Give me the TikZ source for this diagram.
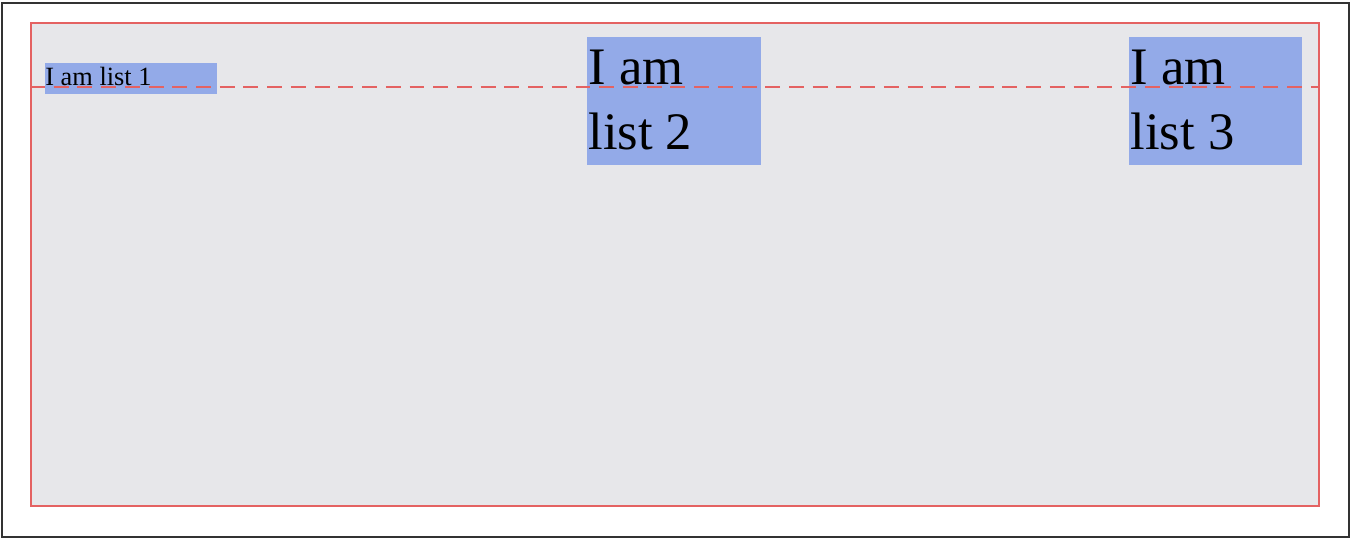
\documentclass[tikz,border=0pt]{standalone}
\usepackage{fontspec}
\setmainfont{Liberation Serif}
\usepackage{xcolor}
\definecolor{panelgrey}{RGB}{231,231,234}
\definecolor{panelred}{RGB}{228,98,98}
\definecolor{listblue}{RGB}{147,170,232}
\tikzstyle{outerframe} = [draw=black!80, line width=1.1pt]
\tikzstyle{panel} = [draw=panelred, fill=panelgrey, line width=1.1pt, rectangle, inner sep=0pt, anchor=north west, minimum width=25.76cm, minimum height=9.66cm]
\tikzstyle{guide} = [draw=panelred, line width=1.3pt, dash pattern=on 8.5pt off 5pt]
\tikzstyle{listbox} = [fill=listblue, rectangle, inner sep=0pt, anchor=north west]
\tikzstyle{bigtext} = [font=\fontsize{30}{37}\selectfont, inner sep=0pt, align=left, anchor=base west]
\tikzstyle{smalltext} = [font=\fontsize{15}{18}\selectfont, inner sep=0pt, anchor=base west]

\begin{document}
\begin{tikzpicture}[x=0.02cm, y=-0.02cm]
\useasboundingbox (0,0) rectangle (1352,540);
\draw[outerframe] (2,3) rectangle (1349,537);
\node[panel] (panel) at (30,22) {};
\node[listbox, minimum width=3.44cm, minimum height=0.62cm] (list1) at (45,63) {};
\node[listbox, minimum width=3.48cm, minimum height=2.56cm] (list2) at (587,37) {};
\node[listbox, minimum width=3.46cm, minimum height=2.56cm] (list3) at (1129,37) {};
\draw[guide] ([yshift=-1.3cm]panel.north west) -- ([yshift=-1.3cm]panel.north east);
\node[smalltext] (label1) at ([yshift=-0.46cm]list1.north west) {I am list 1};
\node[bigtext] (label2) at ([xshift=0.02cm, yshift=-2.26cm]list2.north west) {I am\\list 2};
\node[bigtext] (label3) at ([xshift=0.02cm, yshift=-2.26cm]list3.north west) {I am\\list 3};
\end{tikzpicture}
\end{document}
